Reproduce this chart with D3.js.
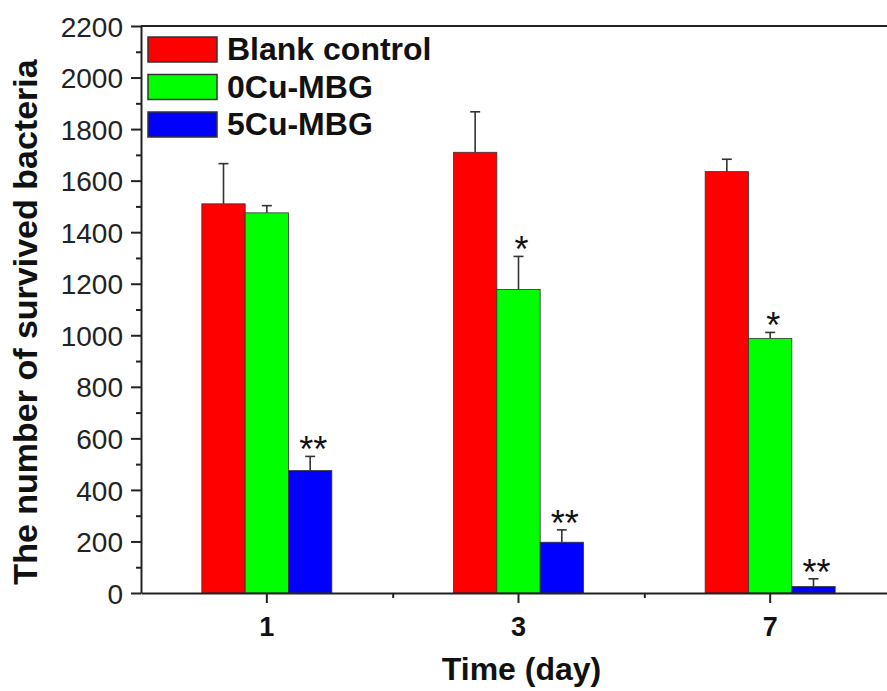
<!DOCTYPE html>
<html>
<head>
<meta charset="utf-8">
<script src="https://cdn.jsdelivr.net/npm/d3@7"></script>
<style>
  body { margin: 0; background: #fff; }
  text { font-family: "Liberation Sans", Arial, sans-serif; }
</style>
</head>
<body>
<div id="chart"></div>
<script>
// data
var days = ["1", "3", "7"];
var seriesNames = ["Blank control", "0Cu-MBG", "5Cu-MBG"];
var seriesColors = ["#ff0000", "#00ff00", "#0000ff"];
var blankValues = [1510, 1710, 1635];
var blankErrors = [156, 157, 48];
var cu0Values = [1475, 1178, 988];
var cu0Errors = [28, 128, 23];
var cu5Values = [475, 197, 25];
var cu5Errors = [55, 48, 30];
var cu0Marks = ["", "*", "*"];
var cu5Marks = ["**", "**", "**"];
var yTicks = d3.range(0, 2201, 200);

var series = [
    { name: seriesNames[0], color: seriesColors[0], values: blankValues, errors: blankErrors, marks: ["", "", ""] },
    { name: seriesNames[1], color: seriesColors[1], values: cu0Values, errors: cu0Errors, marks: cu0Marks },
    { name: seriesNames[2], color: seriesColors[2], values: cu5Values, errors: cu5Errors, marks: cu5Marks }
];

var width = 887, height = 691;
var margin = { top: 26, right: -9, bottom: 98, left: 141 };

var svg = d3.select("#chart").append("svg")
    .attr("width", width)
    .attr("height", height);

var x0 = d3.scaleBand()
    .domain(days)
    .range([margin.left, width - margin.right]);

var groupWidth = 130;
var x1 = d3.scaleBand()
    .domain(seriesNames)
    .range([0, groupWidth]);

var y = d3.scaleLinear()
    .domain([0, 2200])
    .range([height - margin.bottom, margin.top]);

// frame (top line, right side is off the picture)
svg.append("line")
    .attr("x1", margin.left).attr("x2", width - margin.right)
    .attr("y1", y(2200)).attr("y2", y(2200))
    .attr("stroke", "#222").attr("stroke-width", 2);

// bars
var rows = [];
series.forEach(function(s) {
    days.forEach(function(d, i) {
        rows.push({ day: d, name: s.name, color: s.color, value: s.values[i], error: s.errors[i], mark: s.marks[i] });
    });
});

function barX(d) {
    return x0(d.day) + (x0.bandwidth() - groupWidth) / 2 + x1(d.name);
}

svg.selectAll(".bar")
    .data(rows)
    .enter().append("rect")
        .attr("class", "bar")
        .attr("x", barX)
        .attr("y", function(d) { return y(d.value); })
        .attr("width", x1.bandwidth())
        .attr("height", function(d) { return y(0) - y(d.value); })
        .attr("fill", function(d) { return d.color; })
        .attr("stroke", "#333")
        .attr("stroke-width", 0.8);

// error bars (upper only)
var err = svg.selectAll(".err")
    .data(rows)
    .enter().append("g")
        .attr("class", "err")
        .attr("stroke", "#333")
        .attr("stroke-width", 1.6);

err.append("line")
    .attr("x1", function(d) { return barX(d) + x1.bandwidth() / 2; })
    .attr("x2", function(d) { return barX(d) + x1.bandwidth() / 2; })
    .attr("y1", function(d) { return y(d.value); })
    .attr("y2", function(d) { return y(d.value + d.error); });

err.append("line")
    .attr("x1", function(d) { return barX(d) + x1.bandwidth() / 2 - 5; })
    .attr("x2", function(d) { return barX(d) + x1.bandwidth() / 2 + 5; })
    .attr("y1", function(d) { return y(d.value + d.error); })
    .attr("y2", function(d) { return y(d.value + d.error); });

// significance stars
svg.selectAll(".sig")
    .data(rows.filter(function(d) { return d.mark !== ""; }))
    .enter().append("text")
        .attr("class", "sig")
        .attr("x", function(d) { return barX(d) + x1.bandwidth() / 2 + 3; })
        .attr("y", function(d) { return y(d.value + d.error) + 6; })
        .attr("text-anchor", "middle")
        .attr("font-size", 36)
        .attr("fill", "#111")
        .text(function(d) { return d.mark; });

// y axis with minor ticks
var yAxis = svg.append("g")
    .attr("transform", "translate(" + margin.left + ",0)")
    .call(d3.axisLeft(y).tickValues(yTicks).tickFormat(d3.format("d"))
        .tickSize(10).tickPadding(8).tickSizeOuter(0));

svg.append("g")
    .attr("transform", "translate(" + margin.left + ",0)")
    .call(d3.axisLeft(y).tickValues(d3.range(100, 2200, 200)).tickSize(5).tickFormat("").tickSizeOuter(0))
    .select(".domain").remove();

yAxis.selectAll("text")
    .attr("font-size", 28)
    .attr("fill", "#222")
    .attr("dy", "0.36em");

// x axis
var xAxis = svg.append("g")
    .attr("transform", "translate(0," + y(0) + ")")
    .call(d3.axisBottom(x0).tickSize(10).tickPadding(14).tickSizeOuter(0));

svg.append("g")
    .attr("transform", "translate(0," + y(0) + ")")
    .call(d3.axisBottom(d3.scaleLinear().domain([0, 3]).range(x0.range()))
        .tickValues([1, 2]).tickSize(5).tickFormat("").tickSizeOuter(0))
    .select(".domain").remove();

xAxis.selectAll("text")
    .attr("font-size", 27)
    .attr("font-weight", "bold")
    .attr("fill", "#111");

svg.selectAll(".domain, .tick line").attr("stroke", "#222").attr("stroke-width", 2);

// axis titles
svg.append("text")
    .attr("x", x0("3") + x0.bandwidth() / 2 + 3)
    .attr("y", 680)
    .attr("text-anchor", "middle")
    .attr("font-size", 32)
    .attr("font-weight", "bold")
    .attr("fill", "#111")
    .text("Time (day)");

svg.append("text")
    .attr("transform", "translate(37," + 322 + ") rotate(-90)")
    .attr("text-anchor", "middle")
    .attr("font-size", 34)
    .attr("font-weight", "bold")
    .attr("fill", "#111")
    .text("The number of survived bacteria");

// legend
var legend = svg.selectAll(".legend")
    .data(series)
    .enter().append("g")
        .attr("class", "legend")
        .attr("transform", function(d, i) { return "translate(148," + (37 + i * 37.5) + ")"; });

legend.append("rect")
    .attr("width", 69)
    .attr("height", 25)
    .attr("fill", function(d) { return d.color; })
    .attr("stroke", "#333")
    .attr("stroke-width", 1.5);

legend.append("text")
    .attr("x", 79)
    .attr("y", 23)
    .attr("font-size", 32)
    .attr("font-weight", "bold")
    .attr("fill", "#111")
    .text(function(d) { return d.name; });
</script>
</body>
</html>
